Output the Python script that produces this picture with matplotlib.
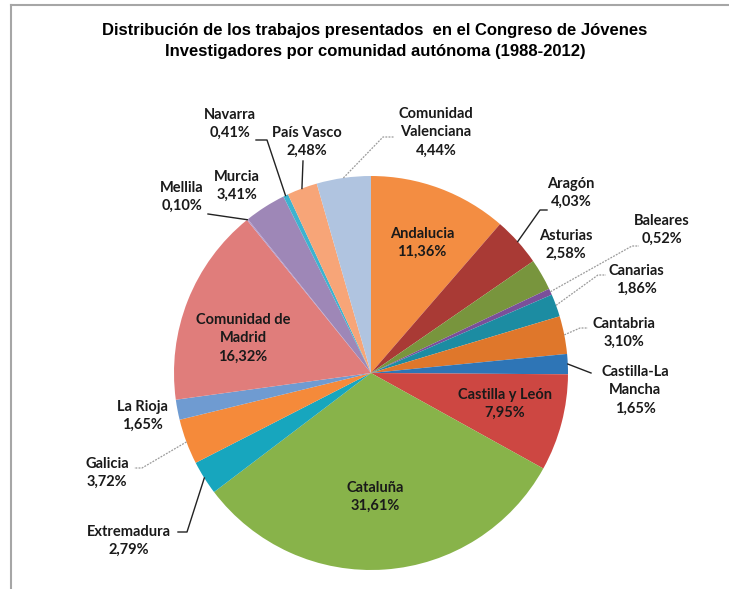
import math
import matplotlib.pyplot as plt

# Datos del gráfico (porcentajes por comunidad, en sentido horario desde las 12)
comunidades = ["Andalucia", "Aragón", "Asturias", "Baleares", "Canarias",
               "Cantabria", "Castilla-La\nMancha", "Castilla y León", "Cataluña",
               "Extremadura", "Galicia", "La Rioja", "Comunidad de\nMadrid",
               "Mellila", "Murcia", "Navarra", "País Vasco", "Comunidad\nValenciana"]
porcentajes = [11.36, 4.03, 2.58, 0.52, 1.86, 3.10, 1.65, 7.95, 31.61,
               2.79, 3.72, 1.65, 16.32, 0.10, 3.41, 0.41, 2.48, 4.44]
colores = ["#F38D42", "#A93A35", "#78953D", "#7A4F9A", "#1C8CA2",
           "#DF772B", "#2E75B6", "#CD4742", "#88B34A", "#17A6BE",
           "#F58A3A", "#6F9BD1", "#E07D7B", "#B49ACB", "#9E87B7",
           "#3DB3CF", "#F7A578", "#B0C4E0"]

titulo = ("Distribución de los trabajos presentados  en el Congreso de Jóvenes\n"
          "Investigadores por comunidad autónoma (1988-2012)")

W, H = 729, 589
CX, CY, R = 371, 373, 197


def px(x, y):
    # pasa de píxeles de la imagen a coordenadas de datos
    return (x - CX) / R, (CY - y) / R


# posición de cada etiqueta (centro en píxeles) y trazo de la línea guía
etiquetas = {
    "Andalucia": ((422, 243), None, None),
    "Aragón": ((571, 193), [(540, 210), (547, 210)], "solid"),
    "Asturias": ((566, 245), None, None),
    "Baleares": ((662, 230), [(632, 246), (639, 246)], "gray"),
    "Canarias": ((636, 280), [(598, 275), (606, 275)], "gray"),
    "Cantabria": ((624, 333), [(580, 328), (588, 328)], "gray"),
    "Castilla-La\nMancha": ((635, 390), [(591, 373)], "solid"),
    "Castilla y León": ((505, 404), None, None),
    "Cataluña": ((375, 497), None, None),
    "Extremadura": ((129, 541), [(187, 532), (178, 532)], "solid"),
    "Galicia": ((107, 473), [(142, 468), (134, 468)], "gray"),
    "La Rioja": ((142, 416), None, None),
    "Comunidad de\nMadrid": ((243, 338), None, None),
    "Mellila": ((182, 197), [(208, 214)], "solid"),
    "Murcia": ((237, 186), None, None),
    "Navarra": ((230, 124), [(267, 140), (256, 140)], "solid"),
    "País Vasco": ((307, 142), [(303, 161)], "solid"),
    "Comunidad\nValenciana": ((436, 132), [(383, 137), (394, 137)], "gray"),
}

fig = plt.figure(figsize=(W / 100, H / 100), dpi=100)
ax = fig.add_axes([0, 0, 1, 1])
ax.pie(porcentajes, colors=colores, startangle=90, counterclock=False,
       radius=1, wedgeprops=dict(linewidth=0))
ax.set_xlim(-CX / R, (W - CX) / R)
ax.set_ylim(-(H - CY) / R, CY / R)
ax.axis('off')

fuente = ['Lato', 'DejaVu Sans']
acumulado = 0
for nombre, p in zip(comunidades, porcentajes):
    medio = 90 - 360 * (acumulado + p / 2) / 100
    acumulado += p
    (tx, ty), guia, estilo = etiquetas[nombre]
    texto = nombre + "\n" + f"{p:.2f}".replace('.', ',') + "%"
    ax.text(*px(tx, ty), texto, ha='center', va='center', fontsize=10.5,
            fontweight='bold', family=fuente, color='#1a1a1a', linespacing=1.4)
    if guia:
        x0 = math.cos(math.radians(medio))
        y0 = math.sin(math.radians(medio))
        xs = [x0] + [px(a, b)[0] for a, b in guia]
        ys = [y0] + [px(a, b)[1] for a, b in guia]
        if estilo == "solid":
            ax.plot(xs, ys, color='#222222', lw=1.0)
        else:
            ax.plot(xs, ys, color='#9a9a9a', lw=0.9, ls=(0, (1.5, 1)))

fig.text(375 / W, 1 - 41 / H, titulo, ha='center', va='center', fontsize=12,
         fontweight='bold', family=['Liberation Sans', 'DejaVu Sans'],
         linespacing=1.45)

# marco del gráfico (bordes superior e izquierdo)
fig.add_artist(plt.Line2D([11 / W, 1], [1 - 5 / H, 1 - 5 / H], color='#a6a6a6', lw=1.5))
fig.add_artist(plt.Line2D([11 / W, 11 / W], [0, 1 - 5 / H], color='#a6a6a6', lw=1.5))

fig.savefig('out.png', dpi=100)
